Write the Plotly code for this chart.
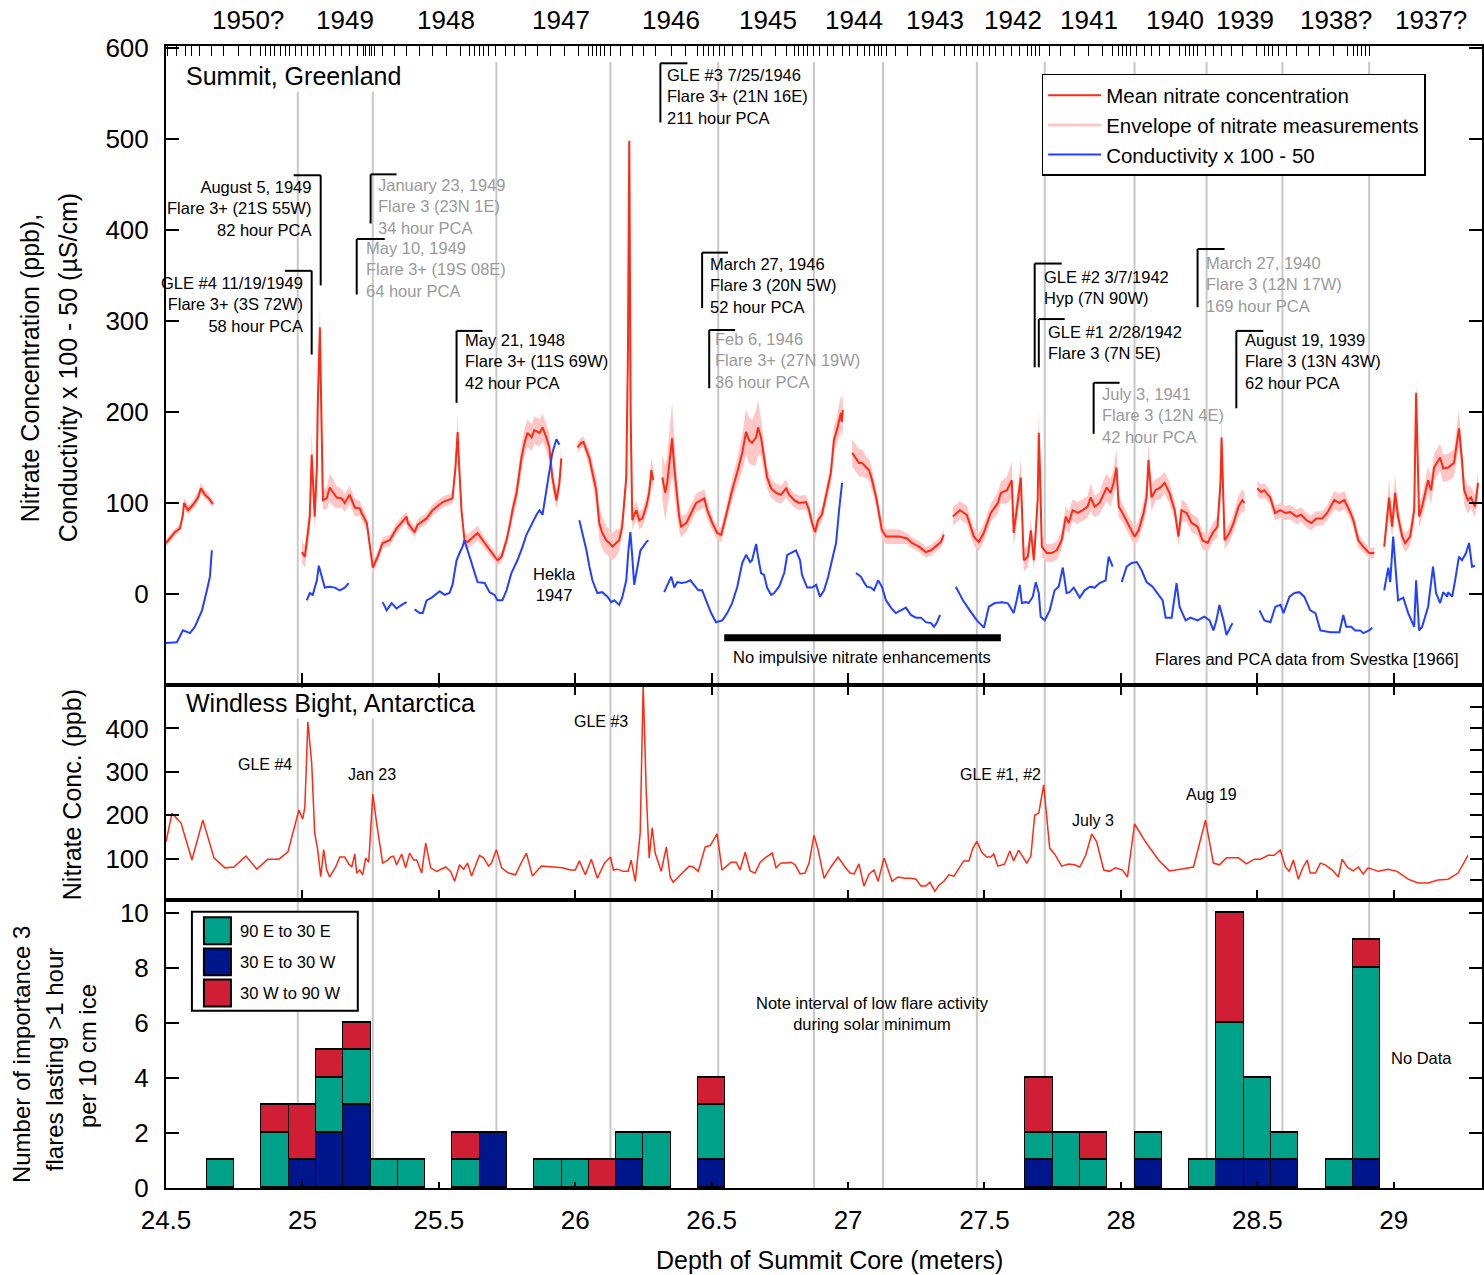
import plotly.graph_objects as go

FONT = "Arial, 'Liberation Sans', Helvetica, sans-serif"
RED = "#ff2a14"
PINK = "#ffc6c6"
BLUE = "#2140ff"
GRID_GRAY = "#c8c8c8"
TEAL = "#00a189"
NAVY = "#00168c"
CRIMSON = "#d01f34"
NOTE_GRAY = "#9a9a9a"

X_MIN, X_MAX = 24.5, 29.3235

# ---------------- Summit, Greenland: mean nitrate (ppb), per core section ----------------
red_a_depth = [24.500, 24.533, 24.551, 24.562, 24.566, 24.581, 24.599, 24.617, 24.628, 24.643, 24.657, 24.672]
red_a_nitrate = [56, 68, 72, 87, 100, 92, 98, 106, 116, 109, 105, 99]
red_a_spread = [4, 4, 4, 5, 6, 5, 5, 6, 6, 5, 5, 4]

red_b_depth = [24.998, 25.009, 25.020, 25.027, 25.034, 25.038, 25.045, 25.053, 25.056, 25.064, 25.071, 25.075,
               25.089, 25.100, 25.111, 25.126, 25.144, 25.155, 25.173, 25.192, 25.210, 25.217, 25.236, 25.247,
               25.258, 25.276, 25.294, 25.320, 25.345, 25.356, 25.382, 25.386, 25.411, 25.422, 25.455, 25.477,
               25.514, 25.550, 25.561, 25.569, 25.572, 25.583, 25.594, 25.605, 25.642, 25.668, 25.697, 25.715,
               25.730, 25.748, 25.759, 25.770, 25.785, 25.803, 25.814, 25.825, 25.840, 25.850, 25.869, 25.880,
               25.894, 25.905, 25.916, 25.931, 25.942, 25.949]
red_b_nitrate = [46, 41, 67, 85, 153, 122, 85, 139, 205, 293, 158, 103, 105, 117, 112, 106, 105, 100, 109, 95,
                 94, 89, 78, 52, 29, 41, 56, 59, 72, 76, 85, 78, 68, 76, 83, 92, 101, 105, 139, 178, 155, 92, 59,
                 57, 67, 56, 45, 37, 41, 59, 74, 92, 111, 150, 166, 177, 172, 180, 177, 183, 172, 161, 128, 103,
                 122, 149]
red_b_spread = [12, 12, 15, 15, 25, 20, 15, 20, 25, 25, 20, 10, 12, 15, 15, 12, 10, 10, 10, 10, 8, 8, 8, 6, 6,
                6, 6, 6, 6, 6, 6, 6, 6, 6, 6, 6, 6, 6, 10, 20, 15, 8, 8, 8, 8, 6, 6, 6, 6, 6, 8, 10, 12, 15, 15,
                15, 15, 15, 15, 15, 15, 15, 12, 10, 12, 12]

red_c_depth = [26.008, 26.022, 26.030, 26.041, 26.052, 26.063, 26.077, 26.081, 26.088, 26.099, 26.114, 26.125,
               26.136, 26.150, 26.161, 26.172, 26.180, 26.187, 26.193, 26.198, 26.203, 26.209, 26.216, 26.224,
               26.235, 26.246, 26.260, 26.271, 26.279, 26.286]
red_c_nitrate = [161, 166, 167, 158, 149, 133, 114, 100, 78, 67, 59, 56, 52, 56, 59, 74, 103, 128, 260, 498, 200,
                 81, 87, 92, 81, 83, 96, 111, 136, 125]
red_c_spread = [6, 6, 6, 8, 10, 12, 15, 15, 18, 18, 15, 15, 15, 15, 12, 10, 12, 15, 20, 22, 15, 10, 10, 10, 10,
                10, 10, 12, 15, 12]

red_d_depth = [26.319, 26.330, 26.337, 26.348, 26.355, 26.363, 26.370, 26.381, 26.388, 26.407, 26.425, 26.443,
               26.462, 26.473, 26.484, 26.502, 26.520, 26.535, 26.546, 26.557, 26.575, 26.593, 26.612, 26.626,
               26.637, 26.648, 26.663, 26.670, 26.681, 26.692, 26.703, 26.718, 26.736, 26.754, 26.773, 26.784,
               26.802, 26.820, 26.846, 26.857, 26.868, 26.879, 26.890, 26.904, 26.915, 26.937, 26.948, 26.959,
               26.974, 26.977, 26.981]
red_d_nitrate = [128, 111, 122, 150, 171, 139, 117, 85, 74, 78, 89, 100, 103, 105, 92, 78, 67, 65, 78, 92, 114,
                 133, 155, 178, 169, 166, 172, 183, 172, 150, 128, 116, 111, 109, 116, 109, 103, 100, 101, 92, 78,
                 68, 81, 87, 103, 133, 169, 180, 199, 189, 202]
red_d_spread = [25, 30, 30, 35, 40, 30, 25, 15, 12, 10, 10, 10, 10, 10, 10, 8, 8, 8, 8, 10, 12, 15, 20, 25, 25,
                25, 30, 30, 20, 15, 12, 10, 10, 10, 10, 8, 8, 8, 8, 8, 8, 8, 8, 8, 10, 12, 15, 15, 20, 20, 20]

red_e_depth = [27.015, 27.029, 27.040, 27.051, 27.066, 27.077, 27.088, 27.103, 27.113, 27.124, 27.139, 27.161,
               27.186, 27.216, 27.234, 27.260, 27.285, 27.304, 27.322, 27.340, 27.351]
red_e_nitrate = [155, 149, 144, 144, 139, 136, 125, 106, 89, 70, 63, 63, 63, 61, 56, 52, 46, 48, 52, 57, 65]
red_e_spread = [15, 15, 15, 15, 12, 12, 12, 10, 10, 10, 8, 8, 8, 6, 6, 6, 6, 6, 6, 6, 6]

red_f_depth = [27.384, 27.410, 27.435, 27.461, 27.479, 27.497, 27.523, 27.549, 27.560, 27.582, 27.600, 27.607,
               27.618, 27.633, 27.644, 27.659, 27.670, 27.681, 27.695, 27.699, 27.703, 27.710, 27.728, 27.746,
               27.765, 27.783, 27.798, 27.809, 27.823, 27.842, 27.860, 27.878, 27.889, 27.904, 27.922, 27.937,
               27.948, 27.962, 27.973, 27.984, 27.992, 28.006, 28.024, 28.039, 28.050, 28.065, 28.083, 28.094,
               28.101, 28.112, 28.127, 28.145, 28.160, 28.178, 28.197, 28.211, 28.222, 28.241, 28.259, 28.281,
               28.299, 28.318, 28.336, 28.354, 28.365, 28.369, 28.376, 28.380, 28.398, 28.413, 28.431, 28.445,
               28.453]
red_f_nitrate = [85, 92, 87, 63, 57, 67, 89, 100, 111, 114, 125, 67, 92, 128, 37, 41, 70, 37, 103, 177, 139, 52,
                 45, 45, 48, 59, 85, 78, 92, 89, 92, 96, 106, 96, 100, 111, 117, 111, 122, 139, 96, 89, 78, 70,
                 63, 70, 89, 106, 147, 106, 114, 117, 122, 111, 92, 63, 92, 89, 78, 74, 59, 56, 67, 74, 122, 172,
                 103, 59, 67, 78, 96, 103, 100]
red_f_spread = [10, 10, 10, 10, 10, 10, 10, 12, 12, 15, 20, 15, 15, 20, 12, 12, 12, 12, 15, 25, 20, 12, 10, 10,
                10, 10, 12, 12, 12, 12, 12, 12, 15, 12, 12, 15, 15, 15, 15, 20, 12, 10, 10, 10, 10, 10, 12, 15,
                20, 15, 12, 12, 12, 12, 10, 10, 12, 10, 10, 10, 10, 10, 10, 12, 20, 25, 15, 10, 10, 10, 12, 12, 12]

red_g_depth = [28.500, 28.514, 28.525, 28.547, 28.565, 28.584, 28.602, 28.621, 28.643, 28.661, 28.680, 28.698,
               28.716, 28.738, 28.756, 28.782, 28.800, 28.819, 28.837, 28.852, 28.870, 28.888, 28.910, 28.929]
red_g_nitrate = [116, 112, 114, 106, 89, 92, 89, 90, 85, 87, 81, 78, 83, 83, 89, 103, 100, 103, 92, 81, 59, 52,
                 45, 45]
red_g_spread = [8, 8, 8, 8, 8, 8, 8, 8, 8, 8, 8, 8, 8, 8, 8, 10, 10, 10, 8, 8, 8, 6, 6, 6]

red_h_depth = [28.965, 28.972, 28.983, 28.994, 29.005, 29.016, 29.031, 29.042, 29.060, 29.075, 29.082, 29.093,
               29.104, 29.126, 29.137, 29.148, 29.170, 29.181, 29.199, 29.221, 29.239, 29.250, 29.258, 29.272,
               29.283, 29.298, 29.309]
red_h_nitrate = [52, 74, 106, 74, 111, 85, 63, 56, 63, 92, 221, 85, 96, 125, 114, 139, 150, 138, 139, 144, 182,
                 147, 114, 103, 106, 96, 122]
red_h_spread = [8, 12, 20, 12, 20, 12, 10, 10, 10, 15, 15, 12, 12, 15, 15, 15, 15, 15, 15, 15, 20, 15, 15, 15,
                12, 12, 12]

# ---------------- Summit conductivity x 100 - 50, per section ----------------
blue_a_depth = [24.500, 24.540, 24.562, 24.588, 24.606, 24.632, 24.650, 24.661, 24.668]
blue_a_cond = [-54, -53, -40, -43, -36, -18, 4, 19, 48]
blue_b_depth = [25.016, 25.027, 25.038, 25.053, 25.060, 25.071, 25.082, 25.100, 25.119, 25.137, 25.155, 25.170]
blue_b_cond = [-7, 1, -1, 15, 31, 19, 7, 8, 7, 4, 7, 12]
blue_c_depth = [25.294, 25.309, 25.327, 25.345, 25.364, 25.382]
blue_c_cond = [-9, -18, -10, -16, -12, -9]
blue_d_depth = [25.411, 25.430, 25.441, 25.455, 25.474, 25.492, 25.503, 25.521, 25.539, 25.550, 25.565, 25.576,
                25.587, 25.594, 25.605, 25.624, 25.642, 25.668, 25.686, 25.704, 25.715, 25.733, 25.748, 25.766,
                25.788, 25.807, 25.821, 25.858, 25.869, 25.880, 25.894, 25.905, 25.916, 25.931, 25.942]
blue_d_cond = [-17, -21, -21, -7, -4, 1, 3, -1, 1, 10, 37, 45, 52, 59, 48, 30, 13, 12, 2, -1, -7, -7, 4, 23, 37,
               52, 65, 87, 92, 87, 114, 139, 155, 170, 164]
blue_e_depth = [26.015, 26.026, 26.041, 26.052, 26.063, 26.081, 26.099, 26.118, 26.132, 26.143, 26.161, 26.172,
                26.187, 26.195, 26.202, 26.209, 26.216, 26.224, 26.239, 26.249, 26.260, 26.268]
blue_e_cond = [81, 67, 48, 30, 15, 1, 2, -3, -9, -7, -12, -4, 15, 48, 68, 41, 10, 23, 48, 52, 57, 59]
blue_f_depth = [26.326, 26.337, 26.352, 26.363, 26.374, 26.389, 26.407, 26.422, 26.436, 26.451, 26.465, 26.480,
                26.498, 26.516, 26.539, 26.557, 26.575, 26.594, 26.612, 26.626, 26.641, 26.648, 26.663, 26.670,
                26.681, 26.692, 26.703, 26.718, 26.729, 26.747, 26.766, 26.777, 26.795, 26.809, 26.824, 26.831,
                26.850, 26.868, 26.883, 26.897, 26.912, 26.927, 26.941, 26.956, 26.967, 26.978]
blue_f_cond = [2, 10, 19, 7, 13, 12, 13, 15, 10, 4, 4, -7, -21, -31, -29, -21, -10, 8, 34, 43, 35, 37, 55, 41,
               23, 21, 7, -1, 1, 8, 23, 43, 46, 48, 37, 21, 7, 7, 10, -3, 4, 19, 37, 56, 92, 122]
blue_g_depth = [27.029, 27.047, 27.058, 27.069, 27.084, 27.095, 27.110, 27.124, 27.139, 27.157, 27.175, 27.194,
                27.212, 27.230, 27.249, 27.267, 27.285, 27.304, 27.315, 27.326, 27.337]
blue_g_cond = [23, 19, 13, 8, 7, 4, 15, 8, -7, -15, -21, -18, -15, -23, -26, -26, -31, -32, -36, -31, -23]
blue_h_depth = [27.395, 27.421, 27.446, 27.472, 27.498, 27.516, 27.538, 27.563, 27.585, 27.607, 27.618, 27.629,
                27.637, 27.651, 27.662, 27.677, 27.688, 27.699, 27.706, 27.721, 27.739, 27.757, 27.772, 27.787,
                27.801, 27.812, 27.827, 27.849, 27.867, 27.886, 27.904, 27.922, 27.944, 27.955, 27.970]
blue_h_cond = [8, -7, -18, -29, -37, -14, -10, -9, -10, -21, -7, 10, -10, -9, -10, -3, 13, 1, -25, -29, -18, 4,
               8, 29, 1, 2, 7, -4, 4, 8, 7, 12, 15, 41, 30]
blue_i_depth = [28.003, 28.021, 28.039, 28.058, 28.076, 28.094, 28.116, 28.134, 28.153, 28.164, 28.186, 28.204,
                28.215, 28.237, 28.255, 28.281, 28.306, 28.325, 28.339, 28.350, 28.361, 28.376, 28.387, 28.402,
                28.409]
blue_i_cond = [13, 30, 34, 35, 26, 13, 8, 1, -7, -26, -26, 12, -14, -29, -26, -29, -25, -29, -40, -29, -12, -29,
               -45, -36, -32]
blue_j_depth = [28.508, 28.526, 28.548, 28.566, 28.585, 28.596, 28.618, 28.636, 28.654, 28.672, 28.694, 28.713,
                28.731, 28.768, 28.801, 28.815, 28.826, 28.844, 28.859, 28.877, 28.888, 28.910, 28.921]
blue_j_cond = [-18, -29, -31, -14, -12, -21, -3, 1, 2, -3, -18, -21, -40, -42, -42, -23, -36, -36, -40, -40, -43,
               -40, -37]
blue_k_depth = [28.965, 28.980, 28.987, 28.998, 29.009, 29.016, 29.035, 29.053, 29.075, 29.082, 29.093, 29.104,
                29.126, 29.144, 29.155, 29.170, 29.181, 29.196, 29.199, 29.214, 29.225, 29.239, 29.250, 29.265,
                29.276, 29.287, 29.298]
blue_k_cond = [4, 29, 13, 63, 19, -7, -4, -21, -36, 15, -40, -36, -14, 30, 1, -10, 2, -3, 2, -3, 15, 41, 37, 45,
               56, 30, 31]

# ---------------- Windless Bight, Antarctica nitrate (ppb) ----------------
wb_depth = [24.500, 24.522, 24.555, 24.595, 24.635, 24.676, 24.716, 24.749, 24.793, 24.833,
            24.873, 24.914, 24.947, 24.987, 25.001, 25.009, 25.020, 25.034, 25.045, 25.056,
            25.067, 25.078, 25.089, 25.100, 25.122, 25.137, 25.155, 25.170, 25.181, 25.192,
            25.199, 25.210, 25.221, 25.232, 25.243, 25.258, 25.272, 25.294, 25.313, 25.324,
            25.334, 25.345, 25.364, 25.378, 25.393, 25.408, 25.419, 25.437, 25.452, 25.470,
            25.492, 25.525, 25.543, 25.558, 25.576, 25.591, 25.605, 25.620, 25.649, 25.664,
            25.682, 25.693, 25.711, 25.730, 25.755, 25.781, 25.803, 25.821, 25.843, 25.876,
            25.920, 25.953, 25.982, 26.000, 26.015, 26.037, 26.059, 26.081, 26.107, 26.129,
            26.140, 26.154, 26.176, 26.194, 26.205, 26.220, 26.238, 26.249, 26.260, 26.271,
            26.282, 26.293, 26.315, 26.334, 26.348, 26.359, 26.392, 26.418, 26.432, 26.451,
            26.476, 26.495, 26.520, 26.538, 26.571, 26.590, 26.604, 26.623, 26.641, 26.659,
            26.678, 26.696, 26.722, 26.736, 26.754, 26.773, 26.791, 26.806, 26.824, 26.842,
            26.857, 26.875, 26.890, 26.912, 26.937, 26.963, 26.989, 27.007, 27.022, 27.040,
            27.058, 27.077, 27.095, 27.110, 27.132, 27.161, 27.183, 27.208, 27.230, 27.249,
            27.267, 27.285, 27.300, 27.318, 27.333, 27.351, 27.369, 27.388, 27.424, 27.443,
            27.457, 27.472, 27.490, 27.508, 27.523, 27.534, 27.549, 27.574, 27.593, 27.607,
            27.625, 27.644, 27.655, 27.670, 27.684, 27.699, 27.717, 27.739, 27.757, 27.783,
            27.808, 27.830, 27.849, 27.871, 27.893, 27.911, 27.937, 27.958, 27.980, 28.006,
            28.024, 28.050, 28.090, 28.138, 28.178, 28.218, 28.266, 28.310, 28.339, 28.361,
            28.387, 28.431, 28.460, 28.489, 28.511, 28.540, 28.562, 28.584, 28.603, 28.617,
            28.632, 28.650, 28.668, 28.683, 28.694, 28.713, 28.731, 28.749, 28.775, 28.797,
            28.811, 28.829, 28.851, 28.870, 28.888, 28.906, 28.943, 28.979, 29.012, 29.053,
            29.089, 29.126, 29.162, 29.199, 29.236, 29.272]
wb_nitrate = [139, 205, 182, 97, 189, 102, 79, 81, 106, 76,
              99, 99, 116, 212, 191, 219, 415, 320, 159, 121,
              59, 121, 74, 58, 81, 104, 104, 88, 81, 111,
              67, 74, 63, 102, 92, 249, 182, 90, 97, 104,
              106, 86, 111, 79, 113, 97, 97, 67, 136, 79,
              71, 81, 71, 48, 86, 76, 90, 60, 108, 102,
              83, 90, 121, 79, 67, 63, 92, 113, 60, 83,
              81, 79, 74, 74, 95, 63, 99, 55, 90, 104,
              74, 76, 71, 71, 97, 48, 159, 500, 258, 102,
              171, 113, 71, 127, 58, 46, 67, 83, 81, 71,
              127, 131, 157, 74, 92, 92, 74, 115, 72, 67,
              92, 102, 113, 79, 90, 90, 92, 86, 65, 67,
              90, 154, 121, 55, 81, 104, 81, 67, 65, 88,
              37, 65, 74, 48, 102, 48, 58, 55, 55, 53,
              37, 37, 46, 25, 39, 48, 63, 60, 95, 95,
              124, 140, 115, 104, 104, 111, 83, 88, 118, 95,
              120, 99, 90, 106, 200, 205, 270, 124, 111, 83,
              88, 86, 81, 108, 157, 139, 74, 71, 79, 74,
              58, 180, 139, 97, 72, 76, 81, 189, 90, 86,
              102, 102, 88, 99, 99, 108, 108, 120, 81, 71,
              97, 53, 81, 97, 67, 67, 90, 86, 74, 58,
              99, 81, 72, 81, 65, 79, 71, 76, 71, 53,
              44, 44, 51, 53, 67, 108]

# ---------------- Flares per 10 cm of ice ----------------
bin_depth = [24.7, 24.9, 25.0, 25.1, 25.2, 25.3, 25.4, 25.6, 25.7, 25.9, 26.0, 26.1, 26.2, 26.3, 26.5,
             27.7, 27.8, 27.9, 28.1, 28.3, 28.4, 28.5, 28.6, 28.8, 28.9]
flares_30e_30w = [0, 0, 1, 2, 3, 0, 0, 0, 2, 0, 0, 0, 1, 0, 1, 1, 0, 0, 1, 0, 1, 1, 1, 0, 1]
flares_90e_30e = [1, 2, 0, 2, 2, 1, 1, 1, 0, 1, 1, 0, 1, 2, 2, 1, 2, 1, 1, 1, 5, 3, 1, 1, 7]
flares_30w_90w = [0, 1, 2, 1, 1, 0, 0, 1, 0, 0, 0, 1, 0, 0, 1, 2, 0, 1, 0, 0, 4, 0, 0, 0, 1]

# ---------------- Dating (top axis) ----------------
year_boundary_depth = [24.983, 25.258, 25.711, 26.129, 26.524, 26.875, 27.128, 27.472, 27.721, 28.050,
                       28.314, 28.592, 28.910]
year_labels = ["1950?", "1949", "1948", "1947", "1946", "1945", "1944", "1943", "1942", "1941",
               "1940", "1939", "1938?", "1937?"]
year_label_depth = [24.800, 25.155, 25.525, 25.949, 26.352, 26.706, 27.021, 27.318, 27.603, 27.882,
                    28.200, 28.456, 28.789, 29.137]
sample_tick_depth = [24.504, 24.537, 24.570, 24.595, 24.624, 24.665, 24.712, 24.764, 24.811, 24.848,
                     24.866, 24.884, 24.899, 24.921, 24.939, 24.954, 24.976, 24.998, 25.020, 25.042,
                     25.064, 25.086, 25.115, 25.144, 25.173, 25.203, 25.225, 25.232, 25.247, 25.254,
                     25.265, 25.294, 25.338, 25.382, 25.430, 25.477, 25.528, 25.580, 25.613, 25.631,
                     25.649, 25.664, 25.682, 25.708, 25.744, 25.777, 25.818, 25.862, 25.909, 25.960,
                     26.012, 26.048, 26.063, 26.077, 26.092, 26.107, 26.129, 26.165, 26.209, 26.249,
                     26.293, 26.352, 26.403, 26.447, 26.469, 26.487, 26.506, 26.528, 26.546, 26.575,
                     26.612, 26.648, 26.681, 26.733, 26.773, 26.802, 26.820, 26.835, 26.853, 26.875,
                     26.897, 26.923, 26.948, 26.978, 27.007, 27.036, 27.062, 27.080, 27.095, 27.110,
                     27.124, 27.139, 27.172, 27.216, 27.267, 27.311, 27.355, 27.391, 27.413, 27.435,
                     27.457, 27.476, 27.498, 27.520, 27.541, 27.571, 27.600, 27.629, 27.659, 27.673,
                     27.688, 27.703, 27.739, 27.779, 27.831, 27.882, 27.933, 27.970, 27.992, 28.006,
                     28.021, 28.036, 28.058, 28.087, 28.112, 28.142, 28.178, 28.215, 28.237, 28.252,
                     28.266, 28.281, 28.310, 28.339, 28.369, 28.405, 28.445, 28.497, 28.526, 28.541,
                     28.555, 28.577, 28.606, 28.643, 28.687, 28.727, 28.779, 28.830, 28.852, 28.866,
                     28.881, 28.896, 28.910]

red_segments = [
    (red_a_depth, red_a_nitrate, red_a_spread), (red_b_depth, red_b_nitrate, red_b_spread),
    (red_c_depth, red_c_nitrate, red_c_spread), (red_d_depth, red_d_nitrate, red_d_spread),
    (red_e_depth, red_e_nitrate, red_e_spread), (red_f_depth, red_f_nitrate, red_f_spread),
    (red_g_depth, red_g_nitrate, red_g_spread), (red_h_depth, red_h_nitrate, red_h_spread),
]
blue_segments = [
    (blue_a_depth, blue_a_cond), (blue_b_depth, blue_b_cond), (blue_c_depth, blue_c_cond),
    (blue_d_depth, blue_d_cond), (blue_e_depth, blue_e_cond), (blue_f_depth, blue_f_cond),
    (blue_g_depth, blue_g_cond), (blue_h_depth, blue_h_cond), (blue_i_depth, blue_i_cond),
    (blue_j_depth, blue_j_cond), (blue_k_depth, blue_k_cond),
]


def joined(segments):
    xs, ys = [], []
    for seg in segments:
        xs += list(seg[0]) + [None]
        ys += list(seg[1]) + [None]
    return xs, ys


fig = go.Figure()

# envelope of measurements
for d, m, s in red_segments:
    hi = [a + b for a, b in zip(m, s)]
    lo = [a - b for a, b in zip(m, s)]
    fig.add_trace(go.Scatter(x=list(d) + list(d)[::-1], y=hi + lo[::-1], fill="toself", fillcolor=PINK,
                             mode="lines", line=dict(width=0, color=PINK), hoverinfo="skip",
                             showlegend=False, xaxis="x3", yaxis="y3"))

rx, ry = joined(red_segments)
bx, by = joined(blue_segments)
fig.add_trace(go.Scatter(x=rx, y=ry, mode="lines", line=dict(color=RED, width=2),
                         name="Mean nitrate concentration", xaxis="x3", yaxis="y3", connectgaps=False))
fig.add_trace(go.Scatter(x=[None], y=[None], mode="lines", line=dict(color=PINK, width=3),
                         name="Envelope of nitrate measurements", xaxis="x3", yaxis="y3"))
fig.add_trace(go.Scatter(x=bx, y=by, mode="lines", line=dict(color=BLUE, width=2),
                         name="Conductivity x 100 - 50", xaxis="x3", yaxis="y3", connectgaps=False))

# Windless Bight
fig.add_trace(go.Scatter(x=wb_depth, y=wb_nitrate, mode="lines", line=dict(color=RED, width=1.5),
                         showlegend=False, xaxis="x2", yaxis="y2"))

# flares (stacked)
for vals, col, nm in [(flares_30e_30w, NAVY, "30 E to 30 W"), (flares_90e_30e, TEAL, "90 E to 30 E"),
                      (flares_30w_90w, CRIMSON, "30 W to 90 W")]:
    fig.add_trace(go.Bar(x=bin_depth, y=[v if v else None for v in vals], width=0.1, name=nm,
                         marker=dict(color=col, line=dict(color="black", width=1.5)),
                         showlegend=False, xaxis="x", yaxis="y"))

# dummy traces to register the overlay axes
fig.add_trace(go.Scatter(x=[], y=[], xaxis="x4", yaxis="y3", showlegend=False))
fig.add_trace(go.Scatter(x=[], y=[], xaxis="x2", yaxis="y4", showlegend=False))

D_TOP = 0.44046
D_MID = 0.25219
tick_font = dict(family=FONT, size=26, color="black")
common_x = dict(range=[X_MIN, X_MAX], showgrid=False, zeroline=False, showline=True, linecolor="black",
                linewidth=2, tickcolor="black", tickwidth=2, tick0=24.5, dtick=0.5)

fig.update_layout(
    width=1484, height=1275,
    margin=dict(l=166, r=0, t=46, b=87),
    paper_bgcolor="white", plot_bgcolor="rgba(0,0,0,0)",
    font=dict(family=FONT, color="black"),
    barmode="stack", bargap=0,
    xaxis=dict(**common_x, anchor="y", mirror=True, ticks="inside", ticklen=6,
               tickfont=tick_font, ticklabelstandoff=8),
    xaxis2=dict(**common_x, anchor="y2", mirror="ticks", ticks="inside", ticklen=10, showticklabels=False),
    xaxis3=dict(**common_x, anchor="y3", mirror=True, ticks="inside", ticklen=12, showticklabels=False),
    xaxis4=dict(range=[X_MIN, X_MAX], overlaying="x3", anchor="y3", side="top", tickmode="array",
                tickvals=sample_tick_depth, ticks="inside", ticklen=10, tickwidth=1.3, tickcolor="black",
                showticklabels=False, showgrid=False, zeroline=False, showline=False),
    yaxis=dict(domain=[0, D_MID], range=[0, 10.47], tickvals=[0, 2, 4, 6, 8, 10], ticks="inside", ticklen=13,
               tickwidth=2, tickcolor="black", showline=True, linecolor="black", linewidth=2, mirror="ticks",
               showgrid=False, zeroline=False, tickfont=tick_font, ticklabelstandoff=10),
    yaxis2=dict(domain=[D_MID, D_TOP], range=[5, 500], tickvals=[100, 200, 300, 400], ticks="inside",
                ticklen=13, tickwidth=2, tickcolor="black", showline=True, linecolor="black", linewidth=2,
                mirror=True, showgrid=False, zeroline=False, tickfont=tick_font, ticklabelstandoff=10),
    yaxis4=dict(range=[5, 500], overlaying="y2", anchor="x2", side="right",
                tickvals=[50, 100, 150, 200, 250, 300, 350, 400, 450], ticks="inside", ticklen=12,
                tickwidth=2, tickcolor="black", showticklabels=False, showgrid=False, zeroline=False,
                showline=False),
    yaxis3=dict(domain=[D_TOP, 1], range=[-100, 602], tickvals=[0, 100, 200, 300, 400, 500, 600],
                ticks="inside", ticklen=13, tickwidth=2, tickcolor="black", showline=True, linecolor="black",
                linewidth=2, mirror="ticks", showgrid=False, zeroline=False, tickfont=tick_font,
                ticklabelstandoff=10),
    legend=dict(x=0.6654, y=0.9755, xanchor="left", yanchor="top", bordercolor="black", borderwidth=1.5,
                bgcolor="white", font=dict(family=FONT, size=20.5), tracegroupgap=0, itemwidth=53,
                traceorder="normal"),
)

shapes = []
for d in year_boundary_depth:
    shapes.append(dict(type="line", xref="x", yref="paper", x0=d, x1=d, y0=0, y1=0.986,
                       line=dict(color=GRID_GRAY, width=2), layer="below"))

# flare notes with brackets (top panel)
notes = [
    ("August 5, 1949<br>Flare 3+ (21S 55W)<br>82 hour PCA", "black", 25.038, 423, "right", 24.968, 25.067, 460, 339),
    ("GLE #4 11/19/1949<br>Flare 3+ (3S 72W)<br>58 hour PCA", "black", 25.009, 318, "right", 24.936, 25.034, 355, 263),
    ("January 23, 1949<br>Flare 3 (23N 1E)<br>34 hour PCA", NOTE_GRAY, 25.269, 426, "left", 25.250, 25.345, 461, 407),
    ("May 10, 1949<br>Flare 3+ (19S 08E)<br>64 hour PCA", NOTE_GRAY, 25.225, 356, "left", 25.199, 25.302, 390, 329),
    ("May 21, 1948<br>Flare 3+ (11S 69W)<br>42 hour PCA", "black", 25.587, 255, "left", 25.565, 25.660, 289, 210),
    ("GLE #3 7/25/1946<br>Flare 3+ (21N 16E)<br>211 hour PCA", "black", 26.330, 547, "left", 26.312, 26.411, 583, 518),
    ("March 27, 1946<br>Flare 3 (20N 5W)<br>52 hour PCA", "black", 26.487, 339, "left", 26.465, 26.560, 375, 314),
    ("Feb 6, 1946<br>Flare 3+ (27N 19W)<br>36 hour PCA", NOTE_GRAY, 26.506, 256, "left", 26.491, 26.586, 290, 226),
    ("GLE #2 3/7/1942<br>Hyp (7N 90W)", "black", 27.710, 337, "left", 27.684, 27.783, 363, 249),
    ("GLE #1 2/28/1942<br>Flare 3 (7N 5E)", "black", 27.725, 276.5, "left", 27.699, 27.794, 302, 249),
    ("March 27, 1940<br>Flare 3 (12N 17W)<br>169 hour PCA", NOTE_GRAY, 28.303, 340, "left", 28.281, 28.380, 379, 315),
    ("July 3, 1941<br>Flare 3 (12N 4E)<br>42 hour PCA", NOTE_GRAY, 27.922, 196, "left", 27.900, 27.995, 232, 176),
    ("August 19, 1939<br>Flare 3 (13N 43W)<br>62 hour PCA", "black", 28.449, 255, "left", 28.423, 28.522, 289, 204),
]
annotations = []
for text, col, xt, ym, anchor, bx0, bx1, btop, bbot in notes:
    vx = bx1 if anchor == "right" else bx0
    shapes.append(dict(type="line", xref="x3", yref="y3", x0=bx0, x1=bx1, y0=btop, y1=btop,
                       line=dict(color="black", width=2)))
    shapes.append(dict(type="line", xref="x3", yref="y3", x0=vx, x1=vx, y0=btop, y1=bbot,
                       line=dict(color="black", width=2)))
    annotations.append(dict(xref="x3", yref="y3", x=xt, y=ym, text=text, showarrow=False, xanchor=anchor,
                            yanchor="middle", align=anchor, font=dict(size=16.5, color=col, family=FONT)))

# thick bar under the solar-minimum interval
shapes.append(dict(type="line", xref="x3", yref="y3", x0=26.546, x1=27.560, y0=-48, y1=-48,
                   line=dict(color="black", width=7)))

# bottom legend (manual)
shapes.append(dict(type="rect", xref="x", yref="y", x0=24.595, x1=25.203, y0=6.44, y1=10.04,
                   line=dict(color="black", width=2), fillcolor="white", layer="above"))
for yc, col, lab in [(9.35, TEAL, "90 E to 30 E"), (8.22, NAVY, "30 E to 30 W"), (7.09, CRIMSON, "30 W to 90 W")]:
    shapes.append(dict(type="rect", xref="x", yref="y", x0=24.639, x1=24.738, y0=yc - 0.49, y1=yc + 0.49,
                       line=dict(color="black", width=2), fillcolor=col, layer="above"))
    annotations.append(dict(xref="x", yref="y", x=24.763, y=yc, text=lab, showarrow=False, xanchor="left",
                            yanchor="middle", font=dict(size=16.5, family=FONT)))

# year labels
for lab, d in zip(year_labels, year_label_depth):
    annotations.append(dict(xref="x", yref="paper", x=d, y=1.0228, text=lab, showarrow=False,
                            xanchor="center", yanchor="middle", font=dict(size=26, family=FONT)))

annotations += [
    dict(xref="x3", yref="y3", x=24.566, y=569, text="Summit, Greenland", showarrow=False, xanchor="left",
         yanchor="middle", bgcolor="white", font=dict(size=25, family=FONT)),
    dict(xref="x3", yref="y3", x=25.924, y=10, text="Hekla<br>1947", showarrow=False, xanchor="center",
         yanchor="middle", font=dict(size=16.5, family=FONT)),
    dict(xref="x3", yref="y3", x=27.051, y=-69, text="No impulsive nitrate enhancements", showarrow=False,
         xanchor="center", yanchor="middle", font=dict(size=16.5, family=FONT)),
    dict(xref="x3", yref="y3", x=28.683, y=-71, text="Flares and PCA data from Svestka [1966]", showarrow=False,
         xanchor="center", yanchor="middle", font=dict(size=16.5, family=FONT)),
    dict(xref="x2", yref="y2", x=24.566, y=458, text="Windless Bight, Antarctica", showarrow=False,
         xanchor="left", yanchor="middle", bgcolor="white", font=dict(size=25, family=FONT)),
    dict(xref="x2", yref="y2", x=24.862, y=316, text="GLE #4", showarrow=False, font=dict(size=16, family=FONT)),
    dict(xref="x2", yref="y2", x=25.254, y=295, text="Jan 23", showarrow=False, font=dict(size=16, family=FONT)),
    dict(xref="x2", yref="y2", x=26.096, y=415, text="GLE #3", showarrow=False, font=dict(size=16, family=FONT)),
    dict(xref="x2", yref="y2", x=27.560, y=293, text="GLE #1, #2", showarrow=False, font=dict(size=16, family=FONT)),
    dict(xref="x2", yref="y2", x=27.896, y=187, text="July 3", showarrow=False, font=dict(size=16, family=FONT)),
    dict(xref="x2", yref="y2", x=28.332, y=249, text="Aug 19", showarrow=False, font=dict(size=16, family=FONT)),
    dict(xref="x", yref="y", x=27.088, y=6.36,
         text="Note interval of low flare activity<br>during solar minimum", showarrow=False,
         xanchor="center", yanchor="middle", font=dict(size=16.5, family=FONT)),
    dict(xref="x", yref="y", x=29.101, y=4.73, text="No Data", showarrow=False, font=dict(size=16.5, family=FONT)),
    # axis titles
    dict(xref="paper", yref="paper", x=-0.1032, y=0.718, text="Nitrate Concentration (ppb),", textangle=-90,
         showarrow=False, xanchor="center", yanchor="middle", font=dict(size=25, family=FONT)),
    dict(xref="paper", yref="paper", x=-0.0744, y=0.718, text="Conductivity x 100 - 50 (µS/cm)", textangle=-90,
         showarrow=False, xanchor="center", yanchor="middle", font=dict(size=25, family=FONT)),
    dict(xref="paper", yref="paper", x=-0.0713, y=0.3441, text="Nitrate Conc. (ppb)", textangle=-90,
         showarrow=False, xanchor="center", yanchor="middle", font=dict(size=25, family=FONT)),
    dict(xref="paper", yref="paper", x=-0.1093, y=0.1165, text="Number of importance 3", textangle=-90,
         showarrow=False, xanchor="center", yanchor="middle", font=dict(size=24, family=FONT)),
    dict(xref="paper", yref="paper", x=-0.0842, y=0.1121, text="flares lasting >1 hour", textangle=-90,
         showarrow=False, xanchor="center", yanchor="middle", font=dict(size=24, family=FONT)),
    dict(xref="paper", yref="paper", x=-0.0592, y=0.1156, text="per 10 cm ice", textangle=-90,
         showarrow=False, xanchor="center", yanchor="middle", font=dict(size=24, family=FONT)),
    dict(xref="paper", yref="paper", x=0.5038, y=-0.063, text="Depth of Summit Core (meters)",
         showarrow=False, xanchor="center", yanchor="middle", font=dict(size=25, family=FONT)),
]

fig.update_layout(shapes=shapes, annotations=annotations)
fig.write_html("out.html")
